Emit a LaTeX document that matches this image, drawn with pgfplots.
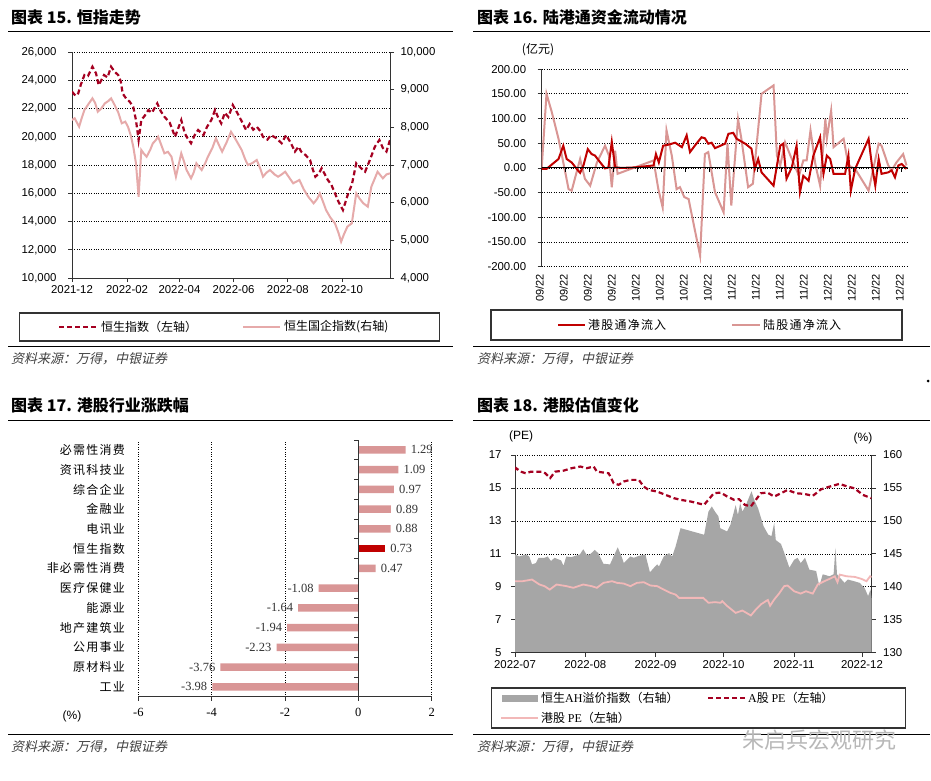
\documentclass[border=0pt]{standalone}
\usepackage{fontspec}
\usepackage{pgfplots}
\pgfplotsset{compat=1.18}
\setmainfont{Liberation Sans}
\newfontfamily\cjk{Noto Sans CJK SC}
\newfontfamily\cjkls[LetterSpace=10]{Noto Sans CJK SC}
\newfontfamily\cjksl[FakeSlant=0.22]{Noto Sans CJK SC}
\newfontfamily\tms{Liberation Serif}
\newcommand{\fs}[1]{\fontsize{#1}{#1}\selectfont}
\definecolor{hsi}{HTML}{A50021}
\definecolor{hscei}{HTML}{E6AAAA}
\definecolor{sbred}{HTML}{C00000}
\definecolor{sbpink}{HTML}{D99694}
\definecolor{barpink}{HTML}{D99696}
\definecolor{ahgray}{HTML}{A6A6A6}
\definecolor{hkpe}{HTML}{F2B8B8}
\pgfplotsset{
  /pgf/number format/assume math mode=true,
  every axis/.append style={
    scale only axis,
    tick label style={font=\fs{11.4}},
    axis line style={black!80, line width=0.8pt},
    major tick length=4pt,
    tick style={black!80, line width=0.8pt},
    grid style={dotted, black, line width=0.7pt},
    tick align=outside,
  },
}
\begin{document}
\begin{tikzpicture}
\path[use as bounding box] (0pt,0pt) rectangle (931pt,-780pt);
\fill[white] (0pt,0pt) rectangle (931pt,-780pt);

% ================= Panel 1 =================
\node[anchor=west, inner sep=0pt, font=\cjk\bfseries\fs{16}] at (11pt,-17pt) {图表 15. 恒指走势};
\draw[black, line width=1pt] (8pt,-31.7pt) -- (453pt,-31.7pt);
\begin{axis}[at={(72pt,-278pt)}, anchor=south west, width=318pt, height=226pt,
  xmin=0, xmax=358, ymin=10000, ymax=26000,
  axis x line*=bottom, axis y line*=left,
  xtick={0,62,121,182,243,304},
  xticklabels={2021-12,2022-02,2022-04,2022-06,2022-08,2022-10},
  ytick={10000,12000,...,26000}, scaled y ticks=false,
  yticklabel style={/pgf/number format/1000 sep={,}, xshift=-8pt},
  ymajorgrids]
\addplot[hsi, line width=2.2pt, dash pattern=on 5pt off 3pt] coordinates {
(0,23190) (4,22900) (7,23070) (10,23700) (14,24370) (18,24300) (23,24960) (27,24500) (30,23660) (33,24000) (36,24370) (40,24200) (44,24960) (48,24600) (52,24370) (55,23900) (57,23070) (61,22700) (65,22480) (69,22100) (72,21180) (75,19770) (78,21180) (82,21500) (86,21890) (90,21700) (96,22360) (100,21800) (104,21420) (110,21000) (116,20000) (119,20500) (123,21180) (127,20240) (130,19900) (134,19540) (138,20100) (142,20480) (148,20120) (152,20700) (157,21200) (161,21890) (165,21300) (168,20950) (172,21700) (176,21400) (181,22250) (186,21700) (191,21100) (196,20480) (200,20900) (204,20500) (208,20710) (212,20400) (215,20000) (220,19800) (224,20120) (230,19900) (236,19540) (241,20120) (246,19600) (251,18950) (255,19300) (258,18950) (263,18700) (268,18350) (271,17700) (274,17170) (278,17400) (281,17770) (285,17300) (288,16940) (292,16600) (296,16000) (300,15400) (305,14810) (308,15400) (311,16000) (315,16600) (320,18120) (325,17800) (330,17530) (335,18300) (341,19300) (346,19770) (350,19200) (354,18950) (358,19770)};
\end{axis}
\begin{axis}[at={(72pt,-278pt)}, anchor=south west, width=318pt, height=226pt,
  xmin=0, xmax=358, ymin=4000, ymax=10000,
  axis x line=none, axis y line*=right,
  ytick={4000,5000,...,10000}, scaled y ticks=false,
  yticklabel style={/pgf/number format/1000 sep={,}, xshift=3pt}]
\addplot[hscei, line width=2pt] coordinates {
(0,8195) (3,8240) (8,8017) (11,8250) (14,8460) (18,8600) (23,8770) (26,8650) (29,8415) (33,8500) (37,8637) (41,8700) (44,8770) (48,8593) (52,8400) (56,8107) (60,8150) (63,8017) (66,7800) (69,7486) (72,7045) (75,6158) (78,7398) (81,7300) (84,7220) (88,7400) (91,7575) (94,7650) (97,7752) (101,7500) (104,7310) (108,7350) (112,7220) (115,6900) (117,6689) (120,7000) (123,7310) (126,7100) (129,6867) (134,6646) (137,6800) (140,7045) (143,6950) (146,6867) (150,7050) (153,7220) (158,7450) (162,7708) (166,7500) (169,7353) (174,7600) (179,7884) (185,7650) (191,7398) (195,7150) (198,7000) (203,7050) (208,7133) (212,6900) (215,6689) (219,6800) (223,6867) (228,6750) (232,6689) (236,6750) (240,6822) (245,6650) (249,6514) (256,6602) (261,6350) (266,6158) (272,5983) (276,6100) (279,6248) (283,6000) (286,5805) (291,5600) (296,5452) (300,5200) (303,4964) (306,5150) (310,5363) (315,5452) (320,6248) (324,6100) (328,5983) (333,5894) (337,6424) (341,6650) (344,6822) (350,6646) (354,6750) (358,6779)};
\end{axis}
\draw[black!80, line width=1.2pt] (19.3pt,-313pt) rectangle (439.3pt,-341pt);
\draw[hsi, line width=2.2pt, dash pattern=on 5pt off 3pt] (59pt,-327pt) -- (97pt,-327pt);
\node[anchor=west, inner sep=0pt, font=\cjk\fs{12}] at (101pt,-327pt) {恒生指数（左轴）};
\draw[hscei, line width=2.2pt] (243pt,-327pt) -- (280pt,-327pt);
\node[anchor=west, inner sep=0pt, font=\cjk\fs{12}] at (284pt,-327pt) {恒生国企指数(右轴)};
\draw[black, line width=1pt] (8pt,-346.7pt) -- (453pt,-346.7pt);
\node[anchor=west, inner sep=0pt, font=\cjksl\fs{13}, text=black!75] at (11pt,-359pt) {资料来源：万得，中银证券};

% ================= Panel 2 =================
\node[anchor=west, inner sep=0pt, font=\cjk\bfseries\fs{16}] at (477pt,-17pt) {图表 16. 陆港通资金流动情况};
\draw[black, line width=1pt] (473pt,-31.7pt) -- (930pt,-31.7pt);
\node[font=\cjk\fs{12}] at (538pt,-50pt) {(亿元)};
\begin{axis}[at={(541.7pt,-266.7pt)}, anchor=south west, width=366pt, height=197.6pt,
  xmin=0, xmax=76.25, ymin=-200, ymax=200,
  axis x line*=bottom, axis y line*=left, x axis line style={draw=none},
  xtick={0,5,...,75},
  xticklabels={09/22,09/22,09/22,09/22,10/22,10/22,10/22,10/22,11/22,11/22,11/22,11/22,12/22,12/22,12/22,12/22},
  xtick style={draw=none},
  xticklabel style={rotate=90, anchor=east, font=\fs{11}, yshift=2pt},
  ytick={-200,-150,...,200},
  yticklabel style={/pgf/number format/.cd, fixed, fixed zerofill, precision=2, /tikz/xshift=-8pt},
  ymajorgrids]
\addplot[sbpink, line width=2pt] coordinates {
(0,0) (1,150) (2.1,113) (3.5,59) (4.5,11) (5.6,-43) (6.25,-46) (8,18) (9,-22) (10.1,-36) (11.5,11) (13.2,45) (14,25) (14.6,-39) (15.3,35) (15.8,-12) (23.3,15) (24.3,-43) (25.2,-80) (26,76) (27.1,25) (28.1,-43) (28.8,-39) (29.7,-59) (30.6,-63) (33,-178) (34,28) (34.7,32) (36.1,-49) (37.9,-90) (38.7,49) (39.5,-76) (40.9,99) (41.6,59) (43,-39) (44,-32) (45.8,150) (48.3,167) (49,25) (49.7,5) (50.7,52) (51.8,25) (53.6,-16) (54.5,15) (55.2,15) (56,76) (57,8) (58,-36) (59.1,99) (59.4,59) (60.3,116) (60.8,42) (62.9,59) (63.9,5) (65.3,-2) (68.1,-46) (70.2,49) (70.8,45) (72.2,5) (72.9,-5) (73.9,11) (75.3,28) (76,5)};
\addplot[sbred, line width=2pt] coordinates {
(0,-2) (1,-2) (3.5,18) (4.5,45) (5.2,18) (6.25,11) (7.3,-2) (8,-10) (8.7,5) (9.6,38) (10.4,28) (11.1,25) (12.2,11) (13.2,-1) (13.9,1) (14.6,53) (15.3,1) (16.7,0) (19.4,1) (23.3,5) (23.8,28) (24.4,11) (25.3,45) (26.4,47) (27.8,51) (29.2,42) (30.2,66) (30.9,32) (31.9,45) (33.3,62) (34,60) (34.7,49) (35.4,51) (36.1,40) (38.2,49) (38.9,69) (39.9,71) (40.6,59) (42.4,49) (43.7,39) (44.4,-2) (45.1,18) (45.8,-9) (48.3,-36) (49.7,45) (50.3,49) (51,-22) (52.1,1) (53.1,45) (53.8,-49) (54.5,-16) (55.6,-26) (56.6,25) (58,62) (58.7,-12) (59.4,25) (60.1,18) (60.8,-12) (63.2,-12) (63.9,25) (64.4,-46) (65.3,-2) (68.1,59) (68.8,5) (69.5,-36) (70.2,18) (70.8,-12) (72.2,-9) (72.9,-5) (73.6,-19) (74.3,5) (75,8) (76,-2)};
\draw[black, line width=0.9pt] (axis cs:0,0) -- (axis cs:76.25,0);
\pgfplotsinvokeforeach{0,5,...,75}{\draw[black, line width=0.8pt] (axis cs:#1,0) -- ++(0pt,-4pt);}
\end{axis}
\draw[black!80, line width=1.2pt] (491pt,-310pt) rectangle (902pt,-340pt);
\draw[sbred, line width=2.2pt] (558pt,-325pt) -- (585pt,-325pt);
\node[anchor=west, inner sep=0pt, font=\cjkls\fs{12}] at (588pt,-325pt) {港股通净流入};
\draw[sbpink, line width=2.2pt] (732pt,-325pt) -- (760pt,-325pt);
\node[anchor=west, inner sep=0pt, font=\cjkls\fs{12}] at (763pt,-325pt) {陆股通净流入};
\draw[black, line width=1pt] (473pt,-346.7pt) -- (930pt,-346.7pt);
\node[anchor=west, inner sep=0pt, font=\cjksl\fs{13}, text=black!75] at (477pt,-359pt) {资料来源：万得，中银证券};
\fill[black] (928pt,-381pt) circle (1.5pt);

% ================= Panel 3 =================
\node[anchor=west, inner sep=0pt, font=\cjk\bfseries\fs{16}] at (11pt,-405pt) {图表 17. 港股行业涨跌幅};
\draw[black, line width=1pt] (8pt,-420pt) -- (453pt,-420pt);
\begin{axis}[at={(138.3pt,-696.7pt)}, anchor=south west, width=293.4pt, height=256.7pt,
  xbar, bar width=7.5pt,
  xmin=-6, xmax=2, ymin=-0.5, ymax=12.5,
  axis x line*=bottom, axis y line*=left, y axis line style={draw=none},
  ytick={0,...,12},
  yticklabels={工业,原材料业,公用事业,地产建筑业,能源业,医疗保健业,非必需性消费,恒生指数,电讯业,金融业,综合企业,资讯科技业,必需性消费},
  ytick style={draw=none},
  yticklabel style={font=\cjkls\fs{12}, xshift=-6pt},
  xtick={-6,-4,-2,0,2},
  xticklabel style={font=\tms\fs{12.5}, yshift=-4pt},
  xmajorgrids,
  nodes near coords={\pgfmathprintnumber[fixed,fixed zerofill,precision=2]{\pgfplotspointmeta}},
  nodes near coords align=horizontal,
  point meta=x,
  every node near coord/.append style={font=\tms\fs{12.5}, text=black!80, inner xsep=5pt}]
\addplot[fill=barpink, draw=none, bar shift=0pt] coordinates {
(-3.98,0) (-3.76,1) (-2.23,2) (-1.94,3) (-1.64,4) (-1.08,5) (0.47,6) (0.88,8) (0.89,9) (0.97,10) (1.09,11) (1.29,12)};
\addplot[fill=sbred, draw=none, bar shift=0pt] coordinates {(0.73,7)};
\draw[black!80, line width=0.8pt] (axis cs:0,-0.5) -- (axis cs:0,12.5);
\pgfplotsinvokeforeach{-0.5,0.5,...,12.5}{\draw[black!80, line width=0.8pt] (axis cs:0,#1) -- ++(-4pt,0pt);}
\end{axis}
\node[font=\fs{12}] at (72pt,-716pt) {(\%)};
\draw[black, line width=1pt] (8pt,-734pt) -- (453pt,-734pt);
\node[anchor=west, inner sep=0pt, font=\cjksl\fs{13}, text=black!75] at (11pt,-747pt) {资料来源：万得，中银证券};

% ================= Panel 4 =================
\node[anchor=west, inner sep=0pt, font=\cjk\bfseries\fs{16}] at (477pt,-405pt) {图表 18. 港股估值变化};
\draw[black, line width=1pt] (473pt,-420pt) -- (930pt,-420pt);
\node[font=\fs{12}] at (521pt,-436pt) {(PE)};
\node[font=\fs{12}] at (863pt,-438pt) {(\%)};
\begin{axis}[at={(515pt,-652.7pt)}, anchor=south west, width=356.7pt, height=197.7pt,
  xmin=0, xmax=157.3, ymin=5, ymax=17,
  axis x line=none, axis y line*=left,
  ytick={5,7,...,17}, yticklabel style={xshift=-6pt},
  ymajorgrids]
\addplot[draw=none] coordinates {(0,5)};
\end{axis}
\begin{axis}[at={(515pt,-652.7pt)}, anchor=south west, width=356.7pt, height=197.7pt,
  xmin=0, xmax=157.3, ymin=130, ymax=160,
  axis x line=none, axis y line*=right,
  ytick={130,135,...,160}, yticklabel style={xshift=4pt}]
\addplot[fill=ahgray, draw=none] coordinates {
(0,130) (0,144.9) (1.8,144.6) (4.8,144.9) (6.3,144.6) (7.5,143.4) (9.2,143.6) (10.4,144.4) (13,144.4) (14.4,144.6) (15.9,143.9) (17.4,144.4) (20.3,144) (21.4,143.2) (22.6,144.6) (24.8,144.5) (28.6,144.9) (30.1,145.7) (31.5,144.9) (33,144.9) (35.2,145.6) (36.7,145.1) (39,143.5) (41.9,143.4) (45.3,146) (47.2,144.4) (48,143.6) (50.9,144.6) (52.4,144.4) (54.6,144.7) (57.5,144.9) (59.5,142.2) (61.3,142.9) (62.7,143.4) (63.5,143.1) (65.6,144.6) (67.9,145.1) (69.3,144.6) (70.8,146.1) (73,148.9) (83.4,147.9) (85.3,151.4) (86.8,152.2) (88.2,151.4) (89.7,150.7) (90.5,148.9) (93.5,148.4) (95,149.4) (97.3,152.4) (98.3,150.9) (99.3,152.7) (100.3,151.4) (101.8,152.4) (104.3,154.5) (105.5,153.2) (107.2,151.9) (109.6,149.2) (111.7,147.9) (113.1,147.7) (114.3,149.7) (115,147.1) (117.3,146.5) (119,144.9) (121,142.9) (123.1,144.1) (124.6,144.4) (126,143.6) (127.9,144.4) (129.8,142.6) (132.8,142.4) (134.2,140.1) (135.7,141.9) (138.7,141.6) (140.5,141.9) (141.3,145.9) (142,141.9) (145.3,140.6) (146.8,141.1) (149,140.9) (152,140.6) (154.2,139.8) (155.7,138.6) (156.8,139.6) (157.3,138.0) (157.3,130)};
\end{axis}
\begin{axis}[at={(515pt,-652.7pt)}, anchor=south west, width=356.7pt, height=197.7pt,
  xmin=0, xmax=157.3, ymin=5, ymax=17,
  axis y line=none, axis x line*=bottom, ytick=\empty,
  xtick={0,31,62,92,123,153},
  xticklabels={2022-07,2022-08,2022-09,2022-10,2022-11,2022-12}]
\addplot[hkpe, line width=1.8pt] coordinates {
(0,9.34) (3.3,9.34) (7.5,9.44) (10.8,9.14) (13,9.04) (15.3,8.83) (18.3,9.14) (22.7,9.04) (25.7,8.94) (30.1,9.14) (33.8,9.04) (36.1,8.94) (39,9.24) (42.8,9.34) (45,9.24) (47.9,9.2) (50.9,9.04) (53.8,9.24) (56.8,9.28) (59.7,9.08) (62.7,9.04) (65.6,8.83) (68.6,8.63) (70.8,8.53) (72.3,8.33) (83,8.33) (85.3,8.03) (88.2,8.07) (90.7,8.03) (91.4,8.13) (93.6,7.83) (97.3,7.42) (100.3,7.56) (104,7.26) (106.2,7.62) (108.4,7.93) (110.6,8.13) (111.5,8.2) (112.5,7.85) (114.3,8.23) (116.5,8.6) (118.7,9.04) (120.2,9.08) (123.1,8.73) (126,8.59) (128.3,8.73) (131.3,8.59) (133.5,9.14) (136.4,9.34) (138.7,9.48) (141,9.64) (142.2,9.28) (143.2,9.74) (146.2,9.64) (149.9,9.6) (152.8,9.48) (155,9.34) (156.6,9.64) (157.3,9.6)};
\addplot[hsi, line width=2.2pt, dash pattern=on 5pt off 3pt] coordinates {
(0,16.09) (0.5,16.2) (2.5,15.99) (4.8,15.89) (7,15.99) (9.6,15.99) (11.8,15.99) (13.3,15.9) (15.5,15.6) (17.7,15.99) (21.4,16.05) (25,16.2) (28.8,16.3) (31.7,16.2) (34.7,16.3) (36.1,15.99) (38.3,15.95) (41.3,15.89) (43.5,15.29) (45.7,15.19) (47.9,15.39) (50.9,15.49) (54.6,15.49) (56.8,15.08) (59,14.88) (62.7,14.78) (66.4,14.58) (70.1,14.38) (73,14.28) (77.4,14.18) (83.4,13.98) (87.7,14.68) (90.7,14.72) (93.6,14.48) (96.6,14.28) (98.8,14.32) (101.3,13.98) (104,13.88) (106.2,14.28) (108.4,14.68) (111.3,14.72) (114.3,14.48) (117.3,14.68) (120.2,14.88) (123.9,14.68) (127.6,14.64) (131.3,14.52) (135,14.92) (138.7,15.08) (143.1,15.25) (146.8,15.08) (149.7,14.98) (153.4,14.58) (157.1,14.38)};
\end{axis}
\draw[black!80, line width=1.2pt] (491.7pt,-688pt) rectangle (905.7pt,-728pt);
\fill[ahgray] (502pt,-694.5pt) rectangle (538pt,-701.5pt);
\node[anchor=west, inner sep=0pt, font=\cjk\fs{12}] at (541pt,-698pt) {恒生{\tms AH}溢价指数（右轴）};
\draw[hsi, line width=2.2pt, dash pattern=on 5pt off 3pt] (708pt,-698pt) -- (746pt,-698pt);
\node[anchor=west, inner sep=0pt, font=\cjk\fs{12}] at (748pt,-698pt) {{\tms A}股 {\tms PE}（左轴）};
\draw[hkpe, line width=1.8pt] (501pt,-718pt) -- (538pt,-718pt);
\node[anchor=west, inner sep=0pt, font=\cjk\fs{12}] at (541pt,-718pt) {港股 {\tms PE}（左轴）};
\draw[black, line width=1pt] (473pt,-734pt) -- (930pt,-734pt);
\node[anchor=west, inner sep=0pt, font=\cjksl\fs{13}, text=black!75] at (477pt,-747pt) {资料来源：万得，中银证券};
\node[anchor=west, inner sep=0pt, font=\cjk\fs{22}, text=black!28] at (742pt,-740pt) {朱启兵宏观研究};
\end{tikzpicture}
\end{document}
